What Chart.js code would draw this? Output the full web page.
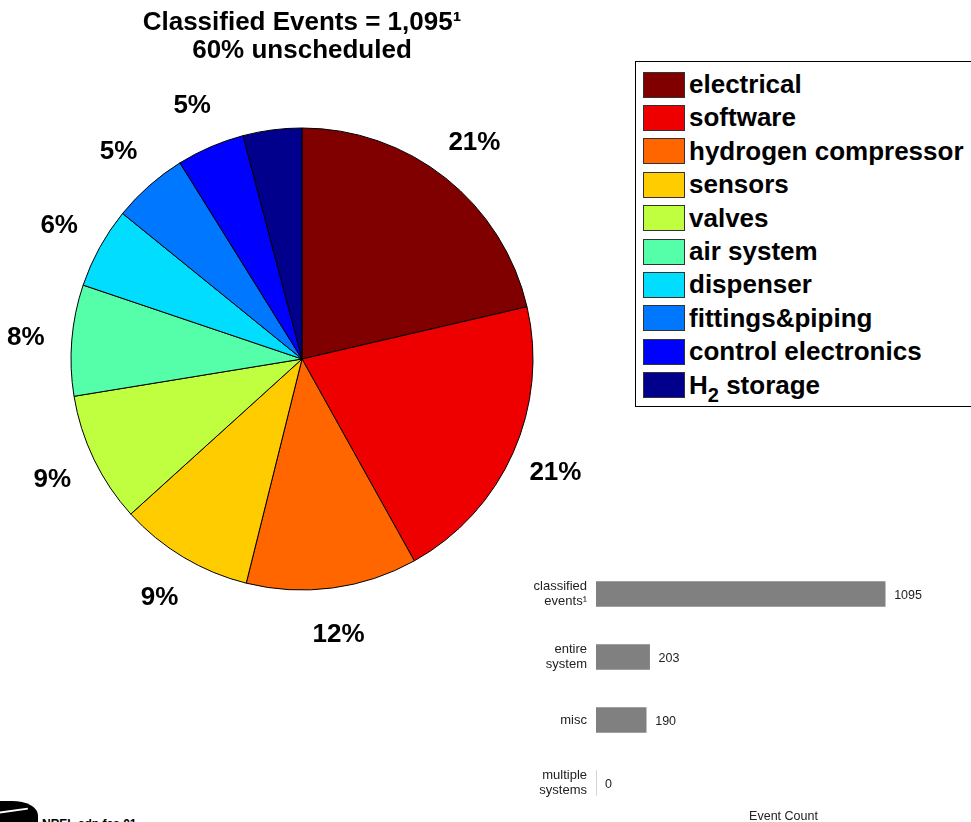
<!DOCTYPE html>
<html>
<head>
<meta charset="utf-8">
<script src="https://cdn.jsdelivr.net/npm/chart.js@4"></script>
<style>
  body { margin: 0; width: 971px; height: 822px; overflow: hidden; background: #fff; position: relative; font-family: "Liberation Sans", Arial, sans-serif; }
  #pie { position: absolute; left: 0; top: 0; }
  #bar { position: absolute; left: 520px; top: 556px; }
  .legend { position: absolute; left: 635px; top: 61px; width: 360px; height: 346px; border: 1px solid #000; box-sizing: border-box; }
  .row { position: absolute; left: 7px; height: 33px; display: flex; align-items: center; font: bold 26px "Liberation Sans", Arial, sans-serif; color: #000; white-space: nowrap; }
  .sw { width: 42px; height: 26px; border: 1px solid #333; box-sizing: border-box; margin-right: 4px; flex: none; }
  .row sub { font-size: 20px; line-height: 0; vertical-align: -8px; }
  .logo { position: absolute; left: -6px; top: 801px; width: 44px; height: 30px; background: #000; border-top-right-radius: 26px 14px; }
  .logo:after { content: ""; position: absolute; left: 0; top: 9px; width: 34px; height: 2px; background: #fff; transform: rotate(-8deg); }
  .tag { position: absolute; left: 42px; top: 817px; font: bold 12px "Liberation Sans", Arial, sans-serif; color: #000; }
</style>
</head>
<body>
<canvas id="pie" width="604" height="653"></canvas>
<div class="legend" id="legend"></div>
<canvas id="bar" width="451" height="266"></canvas>
<div class="logo"></div>
<div class="tag">NREL cdp fcs 01</div>
<script>
// failure categories (event counts out of 1,095 classified events)
const categories = ["electrical", "software", "hydrogen compressor", "sensors", "valves",
  "air system", "dispenser", "fittings&piping", "control electronics", "H₂ storage"]
const counts = [234, 225, 131, 103, 100, 85, 62, 58, 52, 45]
const colors = ["#800000", "#ee0000", "#ff6600", "#ffcc00", "#bfff3f",
  "#55ffaa", "#00ddff", "#0077ff", "#0000ff", "#00008c"]

// small bar chart
const barLabels = [["classified", "events¹"], ["entire", "system"], ["misc"], ["multiple", "systems"]]
const barValues = [1095, 203, 190, 0]

const total = counts.reduce((a, b) => a + b, 0)

// percentage labels outside the slices (the source shows none for H2 storage)
const pctLabels = {
  id: "pctLabels",
  afterDatasetsDraw(chart) {
    const ctx = chart.ctx
    const meta = chart.getDatasetMeta(0)
    ctx.save()
    ctx.font = 'bold 26px "Liberation Sans", Arial'
    ctx.fillStyle = "#000"
    ctx.textAlign = "center"
    ctx.textBaseline = "middle"
    meta.data.forEach((arc, i) => {
      if (i === counts.length - 1) return
      const mid = (arc.startAngle + arc.endAngle) / 2
      const r = arc.outerRadius * 1.2
      const pct = Math.round((counts[i] / total) * 100) + "%"
      ctx.fillText(pct, arc.x + Math.cos(mid) * r, arc.y + Math.sin(mid) * r + 1)
    })
    ctx.restore()
  },
}

new Chart(document.getElementById("pie"), {
  type: "pie",
  data: {
    labels: categories,
    datasets: [{ data: counts, backgroundColor: colors, borderColor: "#000", borderWidth: 1 }],
  },
  options: {
    responsive: false,
    animation: false,
    radius: 231,
    layout: { padding: 0 },
    plugins: {
      legend: { display: false },
      tooltip: { enabled: false },
      title: {
        display: true,
        text: ["Classified Events = 1,095¹", "60% unscheduled"],
        color: "#000",
        font: { size: 26, weight: "bold", family: "Liberation Sans", lineHeight: 28 / 26 },
        padding: { top: 9, bottom: 0 },
      },
    },
  },
  plugins: [pctLabels],
})

// legend built from the same arrays
const $legend = document.getElementById("legend")
let html = ""
categories.forEach((label, i) => {
  const text = label.replace("₂", "<sub>2</sub>")
  html += `<div class="row" style="top:${6 + i * 33.4}px"><span class="sw" style="background:${colors[i]}"></span><span>${text}</span></div>`
})
$legend.innerHTML = html

const valueLabels = {
  id: "valueLabels",
  afterDatasetsDraw(chart) {
    const ctx = chart.ctx
    ctx.save()
    ctx.font = '12.5px "Liberation Sans", Arial'
    ctx.fillStyle = "#222"
    ctx.textAlign = "left"
    ctx.textBaseline = "middle"
    chart.getDatasetMeta(0).data.forEach((bar, i) => {
      ctx.fillText(String(barValues[i]), bar.x + 9, bar.y + 2)
    })
    ctx.restore()
  },
}

new Chart(document.getElementById("bar"), {
  type: "bar",
  data: {
    labels: barLabels,
    datasets: [{ data: barValues, backgroundColor: "#808080", barThickness: 25, borderWidth: 0 }],
  },
  options: {
    indexAxis: "y",
    responsive: false,
    animation: false,
    layout: { autoPadding: false, padding: { top: 6.5, left: 0, right: 0, bottom: 0 } },
    plugins: { legend: { display: false }, tooltip: { enabled: false } },
    scales: {
      x: {
        min: 0,
        max: 1420,
        grid: { display: false, drawTicks: false },
        border: { display: false },
        ticks: { display: false },
        title: {
          display: true,
          text: "Event Count",
          color: "#222",
          font: { size: 12.5, family: "Liberation Sans" },
          padding: { top: 0, bottom: -2 },
        },
        afterFit(scale) {
          scale.height = 7.5
          scale.paddingLeft = 0
          scale.paddingRight = 0
        },
      },
      y: {
        grid: { display: false, drawTicks: false },
        border: { display: false },
        ticks: { color: "#222", padding: 9, font: { size: 13, family: "Liberation Sans", lineHeight: 1.2 } },
        afterFit(scale) {
          // labels sit inside the category bands, so no extra room above/below
          scale.width = 76
          scale.paddingTop = 0
          scale.paddingBottom = 0
        },
      },
    },
  },
  plugins: [valueLabels],
})
</script>
</body>
</html>
